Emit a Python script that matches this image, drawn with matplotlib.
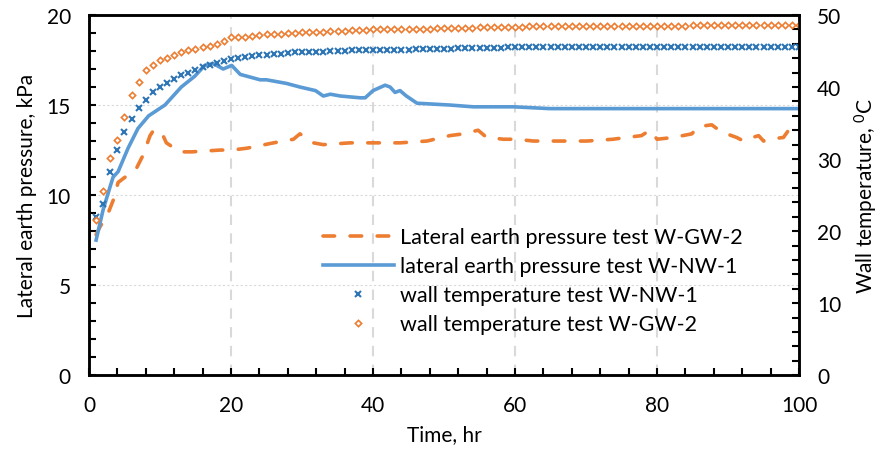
import numpy as np
from matplotlib import pyplot as plt
from matplotlib.ticker import MultipleLocator

plt.rcParams['font.family'] = ['Lato', 'DejaVu Sans']
plt.rcParams['mathtext.default'] = 'regular'

# wall temperature, logged every hour (deg C)
hours = np.arange(1, 101)
temp_gw2 = [21.5, 25.5, 30.2, 32.7, 35.8, 38.9, 40.7, 42.4, 43.1, 43.8,
            44.0, 44.4, 44.8, 45.1, 45.3, 45.5, 45.7, 45.9, 46.4, 46.9,
            46.9, 47.0, 47.1, 47.2, 47.3, 47.3, 47.4, 47.5, 47.5, 47.6,
            47.6, 47.7, 47.7, 47.8, 47.8, 47.8, 47.9, 47.9, 47.9, 48.0,
            48.0, 48.0, 48.0, 48.1, 48.1, 48.1, 48.1, 48.1, 48.2, 48.2,
            48.2, 48.2, 48.2, 48.2, 48.3, 48.3, 48.3, 48.3, 48.3, 48.3,
            48.3, 48.4, 48.4, 48.4, 48.4, 48.4, 48.4, 48.4, 48.5, 48.5,
            48.5, 48.5, 48.5, 48.5, 48.5, 48.5, 48.5, 48.5, 48.5, 48.5,
            48.5, 48.5, 48.5, 48.5, 48.6, 48.6, 48.6, 48.6, 48.6, 48.6,
            48.6, 48.6, 48.6, 48.6, 48.6, 48.6, 48.6, 48.6, 48.6, 48.6]
temp_nw1 = [21.9, 23.8, 28.2, 31.3, 33.7, 35.6, 37.1, 38.2, 39.3, 40.0,
            40.6, 41.1, 41.6, 42.0, 42.4, 42.8, 43.1, 43.4, 43.6, 43.9,
            44.0, 44.2, 44.3, 44.4, 44.5, 44.6, 44.6, 44.7, 44.8, 44.8,
            44.9, 44.9, 44.9, 45.0, 45.0, 45.0, 45.1, 45.1, 45.1, 45.1,
            45.2, 45.2, 45.2, 45.2, 45.2, 45.3, 45.3, 45.3, 45.3, 45.3,
            45.3, 45.4, 45.4, 45.4, 45.4, 45.4, 45.4, 45.4, 45.5, 45.5,
            45.5, 45.5, 45.5, 45.5, 45.5, 45.5, 45.5, 45.5, 45.5, 45.5,
            45.5, 45.5, 45.5, 45.5, 45.5, 45.5, 45.5, 45.5, 45.5, 45.5,
            45.6, 45.6, 45.6, 45.6, 45.6, 45.6, 45.6, 45.6, 45.6, 45.6,
            45.6, 45.6, 45.6, 45.6, 45.6, 45.6, 45.6, 45.6, 45.6, 45.6]

# lateral earth pressure (kPa)
t_nw1 = [1, 2, 3, 3.4, 4.1, 5.5, 6.9, 8.4, 10.7, 13, 14.9, 16.3, 17.5, 18.9,
         20.1, 21.3, 24.1, 25, 27.8, 29.7, 31.9, 33, 34, 35.4, 38.2, 38.9,
         40, 41.7, 42.4, 43.1, 43.8, 44.7, 46.2, 50.8, 54.1, 59.8, 64.9, 80, 100]
p_nw1 = [7.5, 9.2, 10.5, 11.0, 11.3, 12.6, 13.7, 14.4, 15.0, 16.0, 16.6, 17.2,
         17.3, 17.0, 17.2, 16.7, 16.4, 16.4, 16.2, 16.0, 15.8, 15.5, 15.6, 15.5,
         15.4, 15.4, 15.8, 16.1, 16.0, 15.7, 15.8, 15.5, 15.1, 15.0, 14.9, 14.9,
         14.8, 14.8, 14.8]
t_gw2 = [1, 1.5, 2.7, 3.4, 4.1, 5.1, 6.7, 7.6, 8.6, 9.1, 10.2, 10.9, 12.8,
         14.5, 18.5, 20.1, 22.2, 26, 28.8, 29.7, 31.6, 33, 36.8, 40, 43.8,
         47.6, 50.8, 52.7, 54.8, 56, 58.4, 60.2, 62.6, 67.3, 70.1, 73.8, 75.7,
         77.8, 79, 80, 82.3, 84.9, 85.8, 87.7, 89.1, 91.2, 92.2, 92.6, 94.3,
         95, 95.9, 97.8, 98.7, 100]
p_gw2 = [7.8, 8.2, 9.0, 9.7, 10.7, 11.0, 11.5, 12.2, 13.3, 13.6, 13.5, 12.9,
         12.4, 12.4, 12.5, 12.5, 12.6, 12.9, 13.1, 13.4, 12.9, 12.8, 12.9, 12.9,
         12.9, 13.0, 13.3, 13.4, 13.6, 13.2, 13.1, 13.1, 13.0, 13.0, 13.0, 13.1,
         13.2, 13.3, 13.6, 13.1, 13.2, 13.4, 13.8, 13.9, 13.5, 13.2, 13.0, 13.1,
         13.3, 13.0, 13.1, 13.2, 13.7, 13.8]

orange = '#ED7D31'
blue = '#5B9BD5'
dark_blue = '#2E75B6'
fs = 15

fig = plt.figure(figsize=(8.81, 4.56), dpi=100)
ax = fig.add_axes([0.101, 0.175, 0.806, 0.79])
ax2 = ax.twinx()

l1, = ax.plot(t_gw2, p_gw2, color=orange, lw=2.6, dashes=(3.2, 4.3),
              dash_capstyle='round', solid_joinstyle='round')
l2, = ax.plot(t_nw1, p_nw1, color=blue, lw=2.6, solid_joinstyle='round')
l3, = ax2.plot(hours, temp_nw1, ls='none', marker='x', ms=4, mew=1.5,
               color=dark_blue)
l4, = ax2.plot(hours, temp_gw2, ls='none', marker='D', ms=3.2, mew=1.2,
               mfc='white', mec=orange)

ax.set_xlim(0, 100)
ax.set_ylim(0, 20)
ax2.set_ylim(0, 50)
ax.xaxis.set_major_locator(MultipleLocator(20))
ax.xaxis.set_minor_locator(MultipleLocator(4))
ax.yaxis.set_major_locator(MultipleLocator(5))
ax.yaxis.set_minor_locator(MultipleLocator(1))
ax2.yaxis.set_major_locator(MultipleLocator(10))
ax2.yaxis.set_minor_locator(MultipleLocator(2))

ax.tick_params(axis='y', which='both', direction='in', length=5, width=1.5,
               labelsize=fs, pad=13)
ax2.tick_params(axis='y', which='both', direction='in', length=5, width=1.5,
                labelsize=fs, pad=13)
ax.tick_params(axis='x', which='both', direction='in', length=5, width=1.5,
               labelsize=fs, pad=14)

for a in (ax, ax2):
    for s in a.spines.values():
        s.set_linewidth(1.8)
        s.set_color('black')

# vertical dashed and horizontal dotted grid
for xv in (20, 40, 60, 80):
    ax.axvline(xv, color='#D9D9D9', lw=1.5, dashes=(5, 4), zorder=0)
for yv in (5, 10, 15):
    ax.axhline(yv, color='#D9D9D9', lw=0.8, ls=(0, (2, 2)), zorder=0)

ax.set_xlabel('Time, hr', fontsize=fs, labelpad=7)
ax.set_ylabel('Lateral earth pressure, kPa', fontsize=fs, labelpad=7)
ax2.set_ylabel('Wall temperature, $^0$C', fontsize=fs, labelpad=8)

ax2.legend([l1, l2, l3, l4],
           ['Lateral earth pressure test W-GW-2',
            'lateral earth pressure test W-NW-1',
            'wall temperature test W-NW-1',
            'wall temperature test W-GW-2'],
           loc='center', bbox_to_anchor=(0.625, 0.262), frameon=False,
           fontsize=15.5, handlelength=3.3, numpoints=1, labelspacing=0.42,
           handletextpad=0.3)

fig.savefig('out.png', dpi=100)
